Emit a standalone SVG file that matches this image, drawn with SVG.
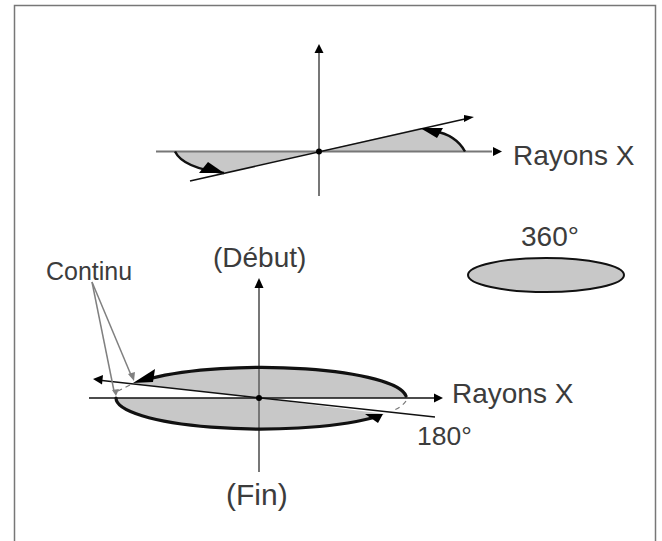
<svg xmlns="http://www.w3.org/2000/svg" width="662" height="541" viewBox="0 0 662 541">
<style>
text{font-family:"Liberation Sans",Arial,sans-serif;fill:#3c3c3c}
.axis{stroke:#777;stroke-width:2;fill:none}
.thin{stroke:#111;stroke-width:1.5;fill:none}
.thick{stroke:#111;stroke-width:3.200;fill:none;stroke-linecap:round}
.arc{stroke:#111;stroke-width:2.400;fill:none}
.fill{fill:#c8c8c8;stroke:none}
.lead{stroke:#808080;stroke-width:1.5;fill:none}
.dash{stroke:#777;stroke-width:1.2;fill:none;stroke-dasharray:5 4}
.head{fill:#000}
.dot{fill:#000}
.lh{fill:#808080}
</style>
<rect width="662" height="541" fill="#fff"/>
<g id="frame"><path d="M14.500 541V5.500H655.500V541" fill="none" stroke="#777" stroke-width="1.500"/></g>
<g id="shaded-areas">
<path class="fill" d="M319 151.500L420 128Q454 133 465 151.500Z"/>
<path class="fill" d="M175 151.500Q183 168 224 173L319 151.500Z"/>
<path class="fill" d="M133 383.500A145 31 0 0 1 406 398L259 398Z"/>
<path class="fill" d="M116 398A145 31 0 0 0 385 414L259 398Z"/>
<ellipse class="fill" cx="546" cy="275" rx="78" ry="17"/>
</g>
<g id="connectors">
<path class="axis" d="M319 196V50"/>
<path class="axis" d="M156 151.500H492"/>
<path class="thin" d="M190 181L466 118.800"/>
<path class="arc" d="M175 151.500Q183 168 224 173"/>
<path class="arc" d="M434 131Q456 135 465 151.500"/>
<path class="axis" d="M259 472V285"/>
<path class="thin" d="M89 398H436"/>
<path class="thin" d="M435 417L102 380.500"/>
<path class="thick" d="M150 378.500A145 31 0 0 1 406 396"/>
<path class="thick" d="M116 398A145 31 0 0 0 372 418"/>
<path class="dash" d="M130 385L118 391"/>
<path class="dash" d="M406 401Q402 407 392 411"/>
<path class="lead" d="M92 282L131 375"/>
<path class="lead" d="M92 282L114 391"/>
</g>
<g id="arrowheads">
<path class="head" d="M319 44L314.500 53H323.500Z"/>
<path class="head" d="M502 151.500L493 147V156Z"/>
<path class="head" d="M474 117L464 115V122Z"/>
<path class="head" d="M208 162L199 173H224Z"/>
<path class="head" d="M420 128L443 128L437 138L427 132Z"/>
<path class="head" d="M259 278L254.500 288H263.500Z"/>
<path class="head" d="M443 398L434 393.500V402.500Z"/>
<path class="head" d="M93 379L103 375L102 384.500Z"/>
<path class="head" d="M133 383L155 369L153 382Z"/>
<path class="head" d="M383 414L365 414L378 423Z"/>
<path class="lh" d="M134 381L128 374L135 372Z"/>
<path class="lh" d="M116 396L112 390L119 389Z"/>
<circle class="dot" cx="319" cy="151.500" r="3"/>
<circle class="dot" cx="259" cy="398" r="3"/>
</g>
<g id="ellipse-360"><ellipse cx="546" cy="275" rx="78" ry="17" fill="none" stroke="#111" stroke-width="2"/></g>
<g id="labels">
<text x="513" y="165" font-size="28">Rayons X</text>
<text x="521" y="246" font-size="28">360°</text>
<text x="213" y="267" font-size="28">(Début)</text>
<text x="46" y="280" font-size="25">Continu</text>
<text x="452" y="403" font-size="28">Rayons X</text>
<text x="417" y="445" font-size="26.500">180°</text>
<text x="226" y="505" font-size="30">(Fin)</text>
</g>
</svg>
